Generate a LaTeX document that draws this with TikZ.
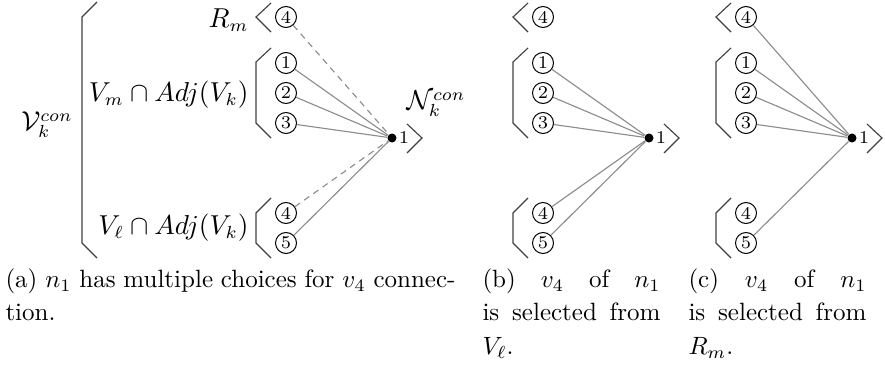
\documentclass[tikz,border=0pt]{standalone}
\usepackage{amsmath}
\usepackage{tikz}
\usetikzlibrary{shapes.geometric, arrows.meta}
\usepackage{xcolor}

\tikzset{
    vtx/.style={draw, circle, inner sep=0pt, minimum size=8.4pt, font=\fontsize{7.2}{8}\selectfont},
    hub/.style={fill, circle, inner sep=0pt, minimum size=3.6pt},
    brk/.style={black!75, line width=0.45pt},
    lnk/.style={black!45, line width=0.45pt},
    opt/.style={black!45, line width=0.45pt, dash pattern=on 2.5pt off 2pt},
    lbl/.style={inner sep=0pt, font=\fontsize{10.5}{12}\selectfont},
    capt/.style={anchor=north west, inner sep=0pt, align=justify, font=\fontsize{10}{13.4}\selectfont}
}

\begin{document}
\begin{tikzpicture}[x=0.4pt, y=-0.4pt]
    \useasboundingbox (0,0) rectangle (885,366);
    % the three panels share brackets and vertices
    \foreach \p/\dx in {a/0, b/257, c/460} {
        \node[vtx] (\p r4) at (\dx+286,17) {4};
        \node[vtx] (\p 1) at (\dx+286,63) {1};
        \node[vtx] (\p 2) at (\dx+286,93) {2};
        \node[vtx] (\p 3) at (\dx+286,123) {3};
        \node[vtx] (\p 4) at (\dx+286,213) {4};
        \node[vtx] (\p 5) at (\dx+286,243) {5};
        \node[hub] (\p n) at (\dx+392,138) {};
        \node[font=\fontsize{7.2}{8}\selectfont, inner sep=0pt] (\p nl) at (\dx+404,138) {1};
        \draw[brk] (\dx+271,3) -- (\dx+256,17) -- (\dx+271,32);
        \draw[brk] (\dx+271,48) -- (\dx+256,62) -- (\dx+256,123) -- (\dx+271,138);
        \draw[brk] (\dx+271,198) -- (\dx+256,213) -- (\dx+256,243) -- (\dx+271,258);
        \draw[brk] (\dx+407,124) -- (\dx+422,138) -- (\dx+407,153);
    }

    % (a) labels
    \draw[brk] (97,2) -- (82,17) -- (82,243) -- (97,258);
    \node[lbl] (vcon) at (47,125) {$\mathcal{V}_k^{con}$};
    \node[lbl, anchor=east] (rm) at (249,20) {$R_m$};
    \node[lbl, anchor=east] (vm) at (249,95) {$V_m \cap Adj(V_k)$};
    \node[lbl, anchor=east] (vl) at (249,228) {$V_\ell \cap Adj(V_k)$};
    \node[lbl, anchor=west] (ncon) at (406,104) {$\mathcal{N}_k^{con}$};

    % (a) edges
    \draw[lnk] (a1) -- (an);
    \draw[lnk] (a2) -- (an);
    \draw[lnk] (a3) -- (an);
    \draw[lnk] (a5) -- (an);
    \draw[opt] (ar4) -- (an);
    \draw[opt] (a4) -- (an);

    % (b) edges
    \foreach \v in {1,2,3,4,5} \draw[lnk] (b\v) -- (bn);

    % (c) edges
    \foreach \v in {r4,1,2,3,5} \draw[lnk] (c\v) -- (cn);

    % captions
    \node[capt, text width=180pt] (capa) at (5,268) {(a) $n_1$ has multiple choices for $v_4$ connec-\linebreak tion.};
    \node[capt, text width=71.2pt] (capb) at (482,268) {(b) $v_4$ of $n_1$\linebreak is selected from\linebreak $V_\ell$.};
    \node[capt, text width=71.2pt] (capc) at (688,268) {(c) $v_4$ of $n_1$\linebreak is selected from\linebreak $R_m$.};
\end{tikzpicture}
\end{document}
